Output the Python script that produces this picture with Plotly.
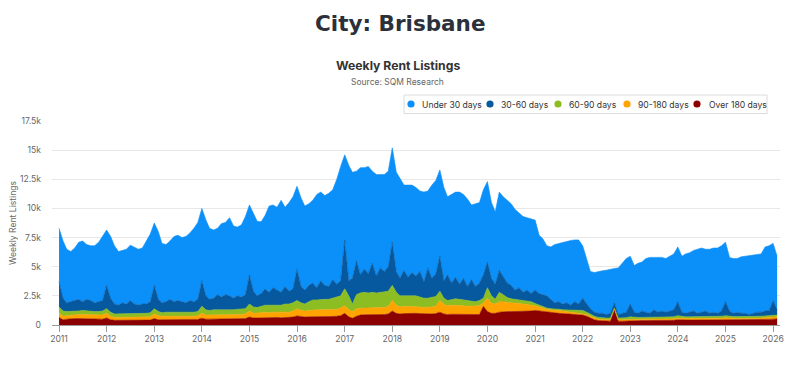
import pandas as pd
import plotly.graph_objects as go

months = pd.date_range("2011-01-01", "2026-02-01", freq="MS")

under_30 = [
    4600, 4900, 4600, 4300, 4500, 4900, 5200, 4700, 4700, 4900, 5100, 5500,   # 2011
    4750, 5300, 5000, 4600, 4500, 4700, 4750, 4900, 4800, 4800, 5400, 5800,   # 2012
    5350, 5800, 5100, 4900, 5000, 5600, 5600, 5500, 5700, 5800, 6300, 6600,   # 2013
    6200, 6500, 6100, 5850, 5700, 6300, 6200, 6700, 6200, 5900, 6200, 6700,   # 2014
    6000, 6600, 6400, 6150, 6300, 7400, 7100, 7100, 7900, 6800, 7600, 7900,   # 2015
    7100, 7600, 7200, 7000, 7100, 8000, 7600, 7700, 8000, 7700, 9000, 9800,   # 2016
    7300, 9900, 9100, 7700, 9200, 8700, 9200, 7900, 8700, 8000, 8300, 8200,   # 2017
    8100, 8500, 8600, 7300, 7900, 7500, 7600, 6900, 7700, 6600, 8000, 8000,   # 2018
    7400, 8000, 6700, 7600, 7300, 7900, 7200, 7500, 6400, 7100, 6900, 7300,   # 2019
    6900, 6500, 6200, 6700, 6800, 7100, 7000, 6900, 6400, 6500, 6200, 6400,   # 2020
    6000, 5000, 4800, 4300, 4500, 5000, 5000, 5300, 5300, 5550, 5300, 5500,   # 2021
    4500, 3800, 3200, 3400, 3600, 3650, 3800, 3800, 2950, 4000, 4300, 4600,   # 2022
    4100, 4000, 4300, 4200, 4600, 4800, 4500, 4700, 4600, 4600, 4700, 4800,   # 2023
    4700, 4800, 5100, 5100, 5200, 5500, 5500, 5300, 5500, 5500, 5600, 5600,   # 2024
    5100, 4600, 4700, 4600, 4850, 4900, 5050, 5000, 4900, 5000, 5500, 5600,   # 2025
    4900, 4600,                                                               # 2026
]
days_30_60 = [
    2150, 1100, 750, 850, 900, 1000, 750, 1000, 900, 750, 850, 900,
    2000, 1200, 850, 750, 900, 850, 1100, 800, 750, 850, 800, 950,
    2000, 1050, 850, 900, 1100, 950, 1000, 900, 850, 1000, 900, 1050,
    2200, 1200, 950, 1000, 1300, 1150, 1300, 1200, 1000, 1150, 1050, 1200,
    2500, 1350, 1000, 1100, 1400, 1100, 1500, 1250, 1100, 1500, 1100, 1200,
    2700, 1400, 1200, 1400, 1450, 1050, 1600, 1200, 1100, 1600, 1150, 1300,
    4200, 1300, 2200, 2900, 1550, 2000, 1650, 2500, 1450, 2100, 1800, 2100,
    3700, 1800, 1500, 2200, 1600, 2050, 1700, 2200, 1400, 2600, 1650, 1950,
    3000, 1500, 2200, 1400, 1850, 1300, 1850, 1200, 1850, 1300, 1500, 2000,
    2200, 1500, 1300, 1900, 1600, 1250, 1150, 800, 1050, 700, 950, 700,
    1150, 1000, 1050, 1050, 800, 500, 650, 500, 600, 400, 700, 500,
    1050, 700, 500, 350, 350, 400, 300, 400, 450, 300, 400, 480,
    1100, 450, 350, 550, 450, 350, 650, 450, 550, 450, 520, 600,
    1200, 380, 300, 400, 500, 300, 400, 480, 300, 400, 280, 450,
    1200, 450, 280, 380, 280, 300, 200, 280, 380, 350, 420, 400,
    1250, 450,
]
days_60_90 = [
    500, 450, 350, 300, 300, 300, 350, 300, 350, 300, 300, 350,
    400, 350, 300, 300, 300, 300, 350, 300, 300, 300, 300, 350,
    450, 350, 300, 350, 350, 350, 350, 350, 300, 350, 350, 350,
    600, 450, 400, 450, 450, 400, 450, 400, 450, 450, 450, 450,
    600, 550, 500, 550, 600, 650, 600, 650, 650, 700, 700, 700,
    700, 650, 600, 750, 850, 850, 900, 900, 900, 1000, 1000, 1050,
    1450, 1200, 650, 1200, 1300, 1350, 1300, 1300, 1250, 1300, 1300, 1300,
    1300, 1100, 950, 900, 900, 900, 900, 850, 800, 800, 800, 850,
    800, 550, 450, 500, 550, 550, 500, 500, 450, 400, 450, 400,
    900, 650, 400, 800, 600, 400, 350, 300, 300, 300, 300, 250,
    200, 150, 100, 100, 100, 100, 100, 100, 150, 180, 220, 250,
    250, 200, 150, 150, 150, 120, 150, 150, 70, 150, 150, 150,
    200, 150, 150, 150, 150, 150, 150, 150, 150, 150, 160, 170,
    220, 170, 150, 150, 150, 150, 150, 160, 140, 140, 150, 170,
    180, 170, 160, 160, 160, 150, 150, 160, 140, 150, 160, 150,
    170, 150,
]
days_90_180 = [
    400, 300, 300, 300, 350, 350, 350, 350, 350, 350, 350, 350,
    400, 300, 250, 250, 300, 250, 250, 280, 250, 250, 280, 280,
    400, 350, 300, 300, 300, 280, 300, 300, 300, 300, 300, 320,
    420, 350, 350, 350, 350, 350, 350, 380, 350, 380, 380, 400,
    520, 400, 400, 430, 450, 430, 450, 450, 430, 450, 450, 520,
    620, 550, 520, 550, 580, 580, 580, 580, 580, 580, 600, 650,
    650, 600, 570, 650, 600, 570, 570, 600, 600, 600, 600, 650,
    900, 700, 600, 620, 600, 570, 600, 570, 550, 550, 600, 620,
    1000, 800, 750, 780, 780, 750, 750, 720, 720, 720, 750, 300,
    1150, 850, 800, 900, 850, 800, 750, 750, 700, 620, 550, 550,
    400, 350, 300, 250, 250, 250, 250, 220, 200, 200, 180, 170,
    150, 150, 150, 150, 120, 130, 120, 120, 80, 120, 120, 120,
    120, 120, 120, 120, 120, 120, 120, 120, 120, 120, 120, 130,
    130, 130, 130, 130, 130, 130, 130, 140, 140, 130, 140, 130,
    140, 130, 130, 130, 130, 130, 130, 130, 140, 150, 150, 170,
    180, 180,
]
over_180 = [
    650, 450, 500, 550, 550, 550, 550, 550, 500, 500, 500, 500,
    600, 450, 400, 400, 400, 400, 400, 420, 400, 400, 420, 420,
    550, 450, 450, 450, 450, 420, 450, 450, 450, 450, 450, 480,
    580, 500, 500, 500, 500, 500, 500, 520, 500, 520, 520, 550,
    680, 600, 600, 620, 650, 620, 650, 650, 620, 650, 650, 680,
    780, 700, 680, 700, 720, 720, 720, 720, 720, 720, 750, 800,
    1000, 700, 580, 750, 850, 880, 880, 900, 900, 900, 900, 950,
    1200, 1000, 950, 980, 1000, 980, 1000, 980, 950, 950, 950, 980,
    1100, 950, 900, 920, 920, 900, 900, 880, 880, 880, 900, 1600,
    1150, 1000, 1000, 1100, 1150, 1150, 1150, 1150, 1150, 1180, 1200, 1200,
    1250, 1200, 1150, 1100, 1050, 1050, 1000, 980, 950, 920, 900, 880,
    850, 750, 600, 450, 380, 350, 330, 330, 1300, 330, 330, 350,
    380, 380, 380, 380, 380, 380, 380, 380, 380, 380, 400, 400,
    450, 420, 420, 420, 420, 420, 420, 420, 420, 430, 430, 450,
    480, 450, 430, 430, 430, 420, 420, 430, 440, 450, 470, 480,
    500, 520,
]

series_names = ["Under 30 days", "30-60 days", "60-90 days", "90-180 days", "Over 180 days"]
series_values = [under_30, days_30_60, days_60_90, days_90_180, over_180]
series_colors = ["#0b8ff8", "#06599f", "#8cbd22", "#ffa300", "#8b0000"]

y_tick_vals = [0, 2500, 5000, 7500, 10000, 12500, 15000, 17500]
y_tick_text = ["0", "2.5k", "5k", "7.5k", "10k", "12.5k", "15k", "17.5k"]
x_years = list(range(2011, 2027))

for v in series_values:
    assert len(v) == len(months)

# ---------------- figure ----------------
FONT = "Inter, 'Open Sans', sans-serif"
TITLE_FONT = "'DejaVu Sans', Inter, sans-serif"
OFF = 8                      # default page body margin
W, H = 800 - OFF, 366 - OFF  # figure size so that it fits the window
L, R, T, B = 44, 20, 113, 41
PW, PH = W - L - R, H - T - B


def px_x(p):
    """page pixel x -> paper coordinate"""
    return (p - OFF - L) / PW


def px_y(p):
    """page pixel y -> paper coordinate"""
    return (H - B - (p - OFF)) / PH


fig = go.Figure()

# stacked areas: bottom band first
for name, vals, col in reversed(list(zip(series_names, series_values, series_colors))):
    fig.add_trace(go.Scatter(
        x=months, y=vals, name=name, mode="lines",
        stackgroup="one", line=dict(width=0.6, color=col),
        fillcolor=col, showlegend=False,
        hovertemplate="%{x|%b %Y}<br>" + name + ": %{y:,}<extra></extra>",
    ))

shapes = []
annotations = []

# custom legend (box, dots and labels)
shapes.append(dict(type="rect", xref="paper", yref="paper",
                   x0=px_x(404), x1=px_x(767), y0=px_y(113.5), y1=px_y(95),
                   line=dict(color="#dcdcdc", width=1), fillcolor="white", layer="above"))
dot_x = [411, 490, 558, 627, 697]
text_x = [419.5, 499, 567, 636, 707]
for name, col, dx, tx in zip(series_names, series_colors, dot_x, text_x):
    shapes.append(dict(type="circle", xref="paper", yref="paper",
                       xsizemode="pixel", ysizemode="pixel",
                       xanchor=px_x(dx), yanchor=px_y(104),
                       x0=-3.6, x1=3.6, y0=-3.6, y1=3.6,
                       fillcolor=col, line=dict(width=0), layer="above"))
    annotations.append(dict(text=name, xref="paper", yref="paper",
                            x=px_x(tx), y=px_y(104.5), xanchor="left", yanchor="middle",
                            showarrow=False, font=dict(family=FONT, size=8.6, color="#333333")))

# titles
annotations.append(dict(text="City: Brisbane", xref="paper", yref="paper",
                        x=px_x(400), y=px_y(23.5), xanchor="center", yanchor="middle",
                        showarrow=False,
                        font=dict(family=TITLE_FONT, size=21.5, color="#2b303a", weight="bold")))
annotations.append(dict(text="Weekly Rent Listings", xref="paper", yref="paper",
                        x=px_x(398), y=px_y(65), xanchor="center", yanchor="middle",
                        showarrow=False,
                        font=dict(family=FONT, size=12.2, color="#333333", weight=700)))
annotations.append(dict(text="Source: SQM Research", xref="paper", yref="paper",
                        x=px_x(397), y=px_y(82), xanchor="center", yanchor="middle",
                        showarrow=False, font=dict(family=FONT, size=8.5, color="#666666")))

fig.update_layout(
    width=W, height=H,
    margin=dict(l=L, r=R, t=T, b=B),
    paper_bgcolor="white", plot_bgcolor="white",
    font=dict(family=FONT, color="#666666"),
    showlegend=False,
    shapes=shapes, annotations=annotations,
    hovermode="x unified",
)

fig.update_xaxes(
    type="date", automargin=False,
    range=["2010-11-08", "2026-02-23"],
    tickvals=[f"{y}-01-01" for y in x_years],
    ticktext=[str(y) for y in x_years],
    ticks="outside", ticklen=6, tickcolor="#9a9a9a", tickwidth=1,
    showline=True, linecolor="#9a9a9a", linewidth=1,
    showgrid=False, zeroline=False,
    tickfont=dict(family=FONT, size=8.6, color="#666666"),
)
fig.update_yaxes(
    range=[0, 17500], automargin=False,
    tickvals=y_tick_vals, ticktext=y_tick_text,
    showgrid=True, gridcolor="#e8e8e8", gridwidth=1,
    showline=False, zeroline=False, ticks="",
    ticklabelstandoff=10,
    tickfont=dict(family=FONT, size=8.6, color="#666666"),
    title=dict(text="Weekly Rent Listings", standoff=1,
               font=dict(family=FONT, size=8.6, color="#666666")),
)

fig.write_html("out.html")
